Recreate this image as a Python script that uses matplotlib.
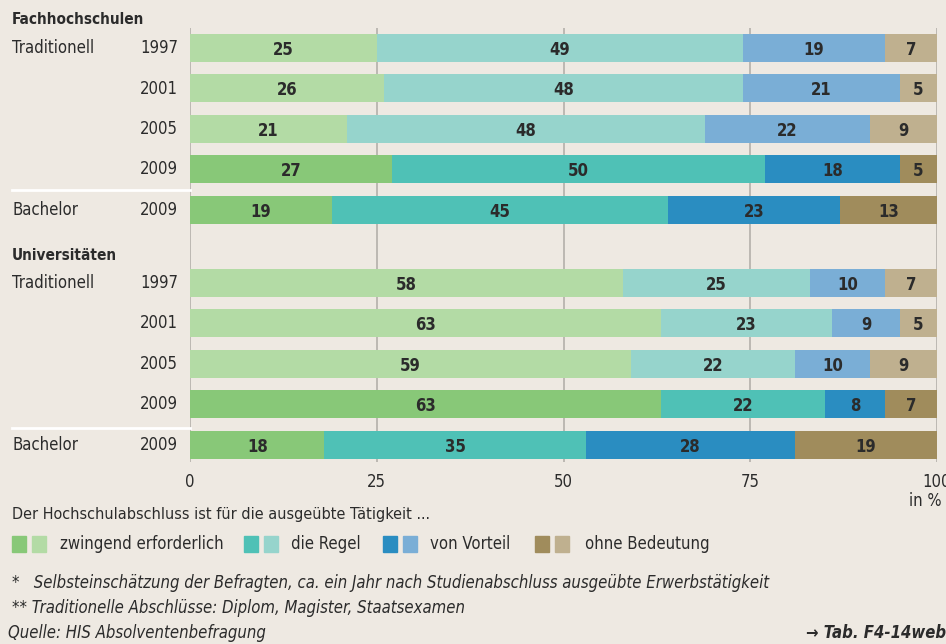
import numpy as np
import matplotlib.pyplot as plt
from matplotlib.patches import Rectangle

plt.rcParams['font.family'] = ['DejaVu Sans']
plt.rcParams['font.stretch'] = 'condensed'

# data
groups = ['Fachhochschulen'] * 5 + ['Universitäten'] * 5
types = ['Traditionell', '', '', '', 'Bachelor'] * 2
years = ['1997', '2001', '2005', '2009', '2009'] * 2
zwingend = [25, 26, 21, 27, 19, 58, 63, 59, 63, 18]
regel = [49, 48, 48, 50, 45, 25, 23, 22, 22, 35]
vorteil = [19, 21, 22, 18, 23, 10, 9, 10, 8, 28]
ohne = [7, 5, 9, 5, 13, 7, 5, 9, 7, 19]
dark = [False, False, False, True, True, False, False, False, True, True]
categories = ['zwingend erforderlich', 'die Regel', 'von Vorteil', 'ohne Bedeutung']

col_dark = ['#88c878', '#4fc1b6', '#2a8dc1', '#a08c5c']
col_light = ['#b3dba5', '#96d4cc', '#7aaed6', '#bfb08f']
bg = '#eee9e2'
txt = '#2b2b2b'

ypos = np.array([0, 1, 2, 3, 4, 5.8, 6.8, 7.8, 8.8, 9.8])

fig = plt.figure(figsize=(9.46, 6.44), dpi=100, facecolor=bg)
W, H = 946, 644
ax = fig.add_axes([190 / W, 1 - 462 / H, 747 / W, 434 / H], facecolor=bg)

series = [zwingend, regel, vorteil, ohne]
for i in range(len(ypos)):
    left = 0
    for k, s in enumerate(series):
        c = col_dark[k] if dark[i] else col_light[k]
        ax.barh(ypos[i], s[i], left=left, height=0.69, color=c, zorder=2)
        ax.text(left + s[i] / 2, ypos[i] + 0.05, str(s[i]), ha='center', va='center',
                fontsize=12, fontweight='bold', color=txt, zorder=3)
        left += s[i]

ax.set_xlim(0, 100)
ax.set_ylim(10.22, -0.49)
for x in [0, 25, 50, 75, 100]:
    ax.axvline(x, color='#b4b0aa', lw=1.2, zorder=1)
for s in ax.spines.values():
    s.set_visible(False)
ax.set_yticks([])
ax.set_xticks([0, 25, 50, 75, 100])
ax.tick_params(axis='x', length=0, labelsize=12, labelcolor=txt, pad=8)

# row labels
def fy(y):
    return 1 - y / H

for i in range(len(ypos)):
    ypx = 48 + ypos[i] * 40.5
    fig.text(178 / W, fy(ypx), years[i], ha='right', va='center', fontsize=12, color=txt)
    if types[i]:
        fig.text(12 / W, fy(ypx), types[i], ha='left', va='center', fontsize=12, color=txt)

fig.text(12 / W, fy(20), 'Fachhochschulen', ha='left', va='center', fontsize=11,
         fontweight='bold', color=txt)
fig.text(12 / W, fy(256), 'Universitäten', ha='left', va='center', fontsize=11,
         fontweight='bold', color=txt)

# white separators
for ysep in [190, 428]:
    fig.add_artist(plt.Line2D([12 / W, 190 / W], [fy(ysep), fy(ysep)], color='white', lw=2))

fig.text(942 / W, fy(501), 'in %', ha='right', va='center', fontsize=12, color=txt)
fig.text(12 / W, fy(514), 'Der Hochschulabschluss ist für die ausgeübte Tätigkeit ...',
         ha='left', va='center', fontsize=11.6, color=txt)

# legend
leg_x = [12, 244, 383, 535]
leg_tx = [60, 291, 430, 585]
for k in range(4):
    fig.add_artist(Rectangle((leg_x[k] / W, fy(552)), 14 / W, 16 / H, color=col_dark[k]))
    fig.add_artist(Rectangle(((leg_x[k] + 20) / W, fy(552)), 14 / W, 16 / H, color=col_light[k]))
    fig.text(leg_tx[k] / W, fy(544), categories[k], ha='left', va='center', fontsize=12, color=txt)

fig.text(12 / W, fy(583), '*   Selbsteinschätzung der Befragten, ca. ein Jahr nach Studienabschluss ausgeübte Erwerbstätigkeit',
         ha='left', va='center', fontsize=12, style='italic', color=txt)
fig.text(12 / W, fy(608), '** Traditionelle Abschlüsse: Diplom, Magister, Staatsexamen',
         ha='left', va='center', fontsize=12, style='italic', color=txt)
fig.text(8 / W, fy(633), 'Quelle: HIS Absolventenbefragung',
         ha='left', va='center', fontsize=12, style='italic', color=txt)
fig.text(946 / W, fy(633), '→ Tab. F4-14web', ha='right', va='center', fontsize=12,
         style='italic', fontweight='bold', color=txt)

fig.savefig('out.png', dpi=100, facecolor=bg)
